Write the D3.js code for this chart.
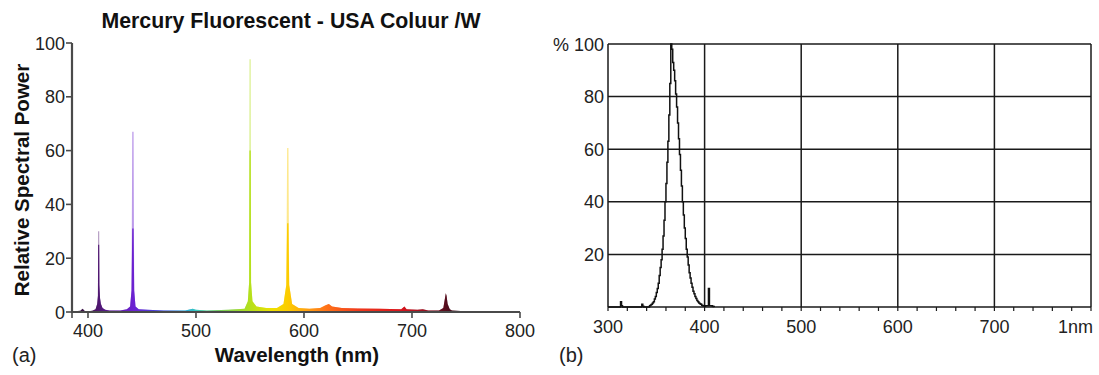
<!DOCTYPE html>
<html>
<head>
    <title>Mercury Fluorescent spectra</title>
    <script src="https://d3js.org/d3.v7.min.js"></script>
    <style>
        body, html {
            margin: 0;
            padding: 0;
            background: #fff;
            overflow: hidden;
        }
        svg {
            display: block;
            font-family: "Liberation Sans", Arial, sans-serif;
        }
        .tick-label { font-size: 18px; fill: #222; }
        .bold-title { font-size: 20.5px; font-weight: bold; fill: #111; }
        .main-title { font-size: 21.3px; }
        .panel-tag { font-size: 20px; fill: #222; }
    </style>
</head>
<body>
<svg id="chart" width="1099" height="375"></svg>
<script>
    // ---- panel (a): mercury fluorescent lamp spectrum ----
    // specPower = full envelope (drawn pale), specCore = dense lower part (drawn solid)
    const specNm = [385, 388, 393, 395, 397, 400, 404, 407, 408.5, 409.2, 409.4, 410.4, 410.6, 411.2, 412, 413.5, 416,
        420, 430, 436, 439, 440.3, 441.0, 442.2, 442.8, 444, 447, 455, 470, 490, 497, 500, 510, 530,
        545, 548, 549.2, 549.5, 550.7, 551, 552.3, 556, 565, 575, 581, 583.6, 584.4, 585.6, 586.3,
        589, 595, 605, 615, 620, 623, 626, 635, 650, 670, 690, 693, 695, 705, 710, 715, 725, 729, 731.3,
        732, 733, 735, 737, 745, 755, 760];
    const specPower = [0, 0.3, 0.5, 1.2, 0.4, 0.3, 0.5, 1, 3, 6, 30, 30, 10, 5, 3, 1.5, 0.8,
        0.6, 0.6, 1, 2, 8, 67, 67, 8, 2, 1, 0.8, 0.6, 0.6, 1.2, 0.8, 0.6, 0.8,
        1.2, 4, 11, 94, 94, 11, 4, 2, 1.5, 1.5, 3, 10, 61, 61, 10,
        3, 1.5, 1.2, 1.5, 2.5, 3, 2, 1.5, 1.3, 1.2, 1, 2, 1, 0.8, 1, 0.6, 0.6, 1.5, 7,
        6, 3, 1, 0.6, 0.4, 0.3, 0];
    const specCore = [0, 0.3, 0.5, 1.2, 0.4, 0.3, 0.5, 1, 3, 6, 25, 25, 10, 5, 3, 1.5, 0.8,
        0.6, 0.6, 1, 2, 8, 31, 31, 8, 2, 1, 0.8, 0.6, 0.6, 1.2, 0.8, 0.6, 0.8,
        1.2, 4, 11, 60, 60, 11, 4, 2, 1.5, 1.5, 3, 10, 33, 33, 10,
        3, 1.5, 1.2, 1.5, 2.5, 3, 2, 1.5, 1.3, 1.2, 1, 2, 1, 0.8, 1, 0.6, 0.6, 1.5, 7,
        6, 3, 1, 0.6, 0.4, 0.3, 0];
    const aXTicks = [400, 500, 600, 700, 800];
    const aYTicks = [0, 20, 40, 60, 80, 100];

    // ---- panel (b): UV lamp emission ----
    const uvNm = [300, 312, 313, 314, 315, 334, 335, 336, 337, 342, 343, 344, 345, 346, 347, 348, 349, 350,
        351, 352, 353, 354, 355, 356, 357, 358, 359, 360, 361, 362, 363, 364, 365, 366, 367, 368, 369, 370,
        371, 372, 373, 374, 375, 376, 377, 378, 379, 380, 381, 382, 383, 384, 385, 386, 387, 388, 389, 390,
        391, 392, 393, 394, 395, 396, 397, 398, 399, 400, 401, 403, 404, 405, 408, 409, 410];
    const uvPct = [0, 0, 2, 0.5, 0, 0, 1, 0.3, 0, 0, 0.5, 0.8, 1, 1.5, 2, 3, 4, 5.5,
        7, 9, 12, 15, 18, 22, 27, 33, 40, 47, 55, 63, 73, 85, 100, 98, 93, 90, 86, 81,
        76, 70, 64, 58, 52, 46, 40, 35, 30, 26, 22, 19, 16, 13, 11, 9, 7.5, 6, 5, 4,
        3.2, 2.5, 2, 1.5, 1.2, 1, 0.7, 0.5, 0.4, 0.3, 0.5, 0.5, 7, 0.5, 0.3, 0.2, 0];
    const bXTicks = [300, 400, 500, 600, 700, 800];
    const bXLabels = ["300", "400", "500", "600", "700", "1nm"];
    const bYTicks = [20, 40, 60, 80, 100];
    const bYLabels = ["20", "40", "60", "80", "% 100"];

    const svg = d3.select("#chart");

    // ================= panel (a) =================
    const xa = d3.scaleLinear().domain([385.2, 800]).range([72, 520]);
    const ya = d3.scaleLinear().domain([0, 100]).range([312, 43]);

    // wavelength colour gradient
    const defs = svg.append("defs");
    const grad = defs.append("linearGradient")
        .attr("id", "spectrum")
        .attr("gradientUnits", "userSpaceOnUse")
        .attr("x1", xa(385)).attr("x2", xa(780))
        .attr("y1", 0).attr("y2", 0);
    const stops = [
        [385, "#2b1230"], [405, "#4a1560"], [420, "#5a1a95"], [442, "#6c22d2"], [470, "#3a4ad8"],
        [490, "#28a8d8"], [500, "#38c8c0"], [520, "#70cc60"], [550, "#b4e01c"], [570, "#eee000"],
        [585, "#fccc00"], [600, "#ffa810"], [620, "#ff7418"], [650, "#f03a1c"], [690, "#d8141c"],
        [715, "#8e1020"], [735, "#4a0c1c"], [760, "#333333"], [780, "#333333"]
    ];
    grad.selectAll("stop")
        .data(stops)
        .enter().append("stop")
        .attr("offset", d => (d[0] - 385) / (780 - 385))
        .attr("stop-color", d => d[1]);

    const specData = specNm.map((d, i) => ({ nm: d, v: specPower[i], c: specCore[i] }));
    const outerArea = d3.area()
        .x(d => xa(d.nm))
        .y0(ya(0))
        .y1(d => ya(d.v));
    const coreArea = d3.area()
        .x(d => xa(d.nm))
        .y0(ya(0))
        .y1(d => ya(d.c));
    svg.append("path")
        .datum(specData)
        .attr("d", outerArea)
        .attr("fill", "url(#spectrum)")
        .attr("fill-opacity", 0.45);
    svg.append("path")
        .datum(specData)
        .attr("d", coreArea)
        .attr("fill", "url(#spectrum)");

    // axes
    const axA = svg.append("g").attr("stroke", "#4a4a4a");
    axA.append("line")
        .attr("x1", xa(385.2)).attr("x2", xa(800))
        .attr("y1", ya(0)).attr("y2", ya(0))
        .attr("stroke-width", 2.2);
    axA.append("line")
        .attr("x1", xa(385.2)).attr("x2", xa(385.2))
        .attr("y1", ya(0) + 1).attr("y2", ya(100))
        .attr("stroke-width", 2.2);
    axA.selectAll(".yt")
        .data(aYTicks)
        .enter().append("line")
        .attr("x1", xa(385.2) - 6).attr("x2", xa(385.2))
        .attr("y1", d => ya(d)).attr("y2", d => ya(d))
        .attr("stroke-width", 1.6);
    axA.selectAll(".xt")
        .data(aXTicks)
        .enter().append("line")
        .attr("x1", d => xa(d)).attr("x2", d => xa(d))
        .attr("y1", ya(0)).attr("y2", ya(0) + 6)
        .attr("stroke-width", 1.6);
    axA.append("line")
        .attr("x1", xa(385.2)).attr("x2", xa(385.2))
        .attr("y1", ya(0)).attr("y2", ya(0) + 6)
        .attr("stroke-width", 1.6);

    svg.selectAll(".ya-label")
        .data(aYTicks)
        .enter().append("text")
        .attr("class", "tick-label")
        .attr("x", 65)
        .attr("y", d => ya(d) + 6.5)
        .attr("text-anchor", "end")
        .text(d => d);
    svg.selectAll(".xa-label")
        .data(aXTicks)
        .enter().append("text")
        .attr("class", "tick-label")
        .attr("x", d => xa(d))
        .attr("y", 337)
        .attr("text-anchor", "middle")
        .text(d => d);

    svg.append("text")
        .attr("class", "bold-title main-title")
        .attr("x", 291).attr("y", 28)
        .attr("text-anchor", "middle")
        .text("Mercury Fluorescent - USA Coluur /W");
    svg.append("text")
        .attr("class", "bold-title")
        .attr("transform", "translate(29,180) rotate(-90)")
        .attr("text-anchor", "middle")
        .text("Relative Spectral Power");
    svg.append("text")
        .attr("class", "bold-title")
        .attr("x", 297).attr("y", 362)
        .attr("text-anchor", "middle")
        .text("Wavelength (nm)");
    svg.append("text")
        .attr("class", "panel-tag")
        .attr("x", 12).attr("y", 362)
        .text("(a)");

    // ================= panel (b) =================
    const xb = d3.scaleLinear().domain([300, 800]).range([608, 1091]);
    const yb = d3.scaleLinear().domain([0, 100]).range([307, 44]);

    const gridB = svg.append("g").attr("stroke", "#1a1a1a").attr("stroke-width", 1.5);
    gridB.selectAll(".hg")
        .data(bYTicks)
        .enter().append("line")
        .attr("x1", xb(300)).attr("x2", xb(800))
        .attr("y1", d => yb(d)).attr("y2", d => yb(d));
    gridB.selectAll(".vg")
        .data(bXTicks)
        .enter().append("line")
        .attr("x1", d => xb(d)).attr("x2", d => xb(d))
        .attr("y1", yb(0)).attr("y2", yb(100));
    gridB.append("line")
        .attr("x1", xb(300)).attr("x2", xb(800))
        .attr("y1", yb(0)).attr("y2", yb(0));
    gridB.selectAll(".mt")
        .data(d3.range(300, 801, 20))
        .enter().append("line")
        .attr("x1", d => xb(d)).attr("x2", d => xb(d))
        .attr("y1", yb(0)).attr("y2", yb(0) + 4)
        .attr("stroke-width", 1.2);

    const uvData = uvNm.map((d, i) => ({ nm: d, v: uvPct[i] }));
    const lineB = d3.line()
        .x(d => xb(d.nm))
        .y(d => yb(d.v))
        .curve(d3.curveStepAfter);
    svg.append("path")
        .datum(uvData)
        .attr("d", lineB)
        .attr("fill", "none")
        .attr("stroke", "#111")
        .attr("stroke-width", 1.5);

    svg.selectAll(".yb-label")
        .data(bYTicks)
        .enter().append("text")
        .attr("class", "tick-label")
        .attr("x", 604)
        .attr("y", d => yb(d) + 6.5)
        .attr("text-anchor", "end")
        .text((d, i) => bYLabels[i]);
    svg.selectAll(".xb-label")
        .data(bXTicks)
        .enter().append("text")
        .attr("class", "tick-label")
        .attr("x", (d, i) => i === bXTicks.length - 1 ? xb(d) + 2 : xb(d))
        .attr("y", 333)
        .attr("text-anchor", (d, i) => i === bXTicks.length - 1 ? "end" : "middle")
        .text((d, i) => bXLabels[i]);
    svg.append("text")
        .attr("class", "panel-tag")
        .attr("x", 559).attr("y", 362)
        .text("(b)");
</script>
</body>
</html>
